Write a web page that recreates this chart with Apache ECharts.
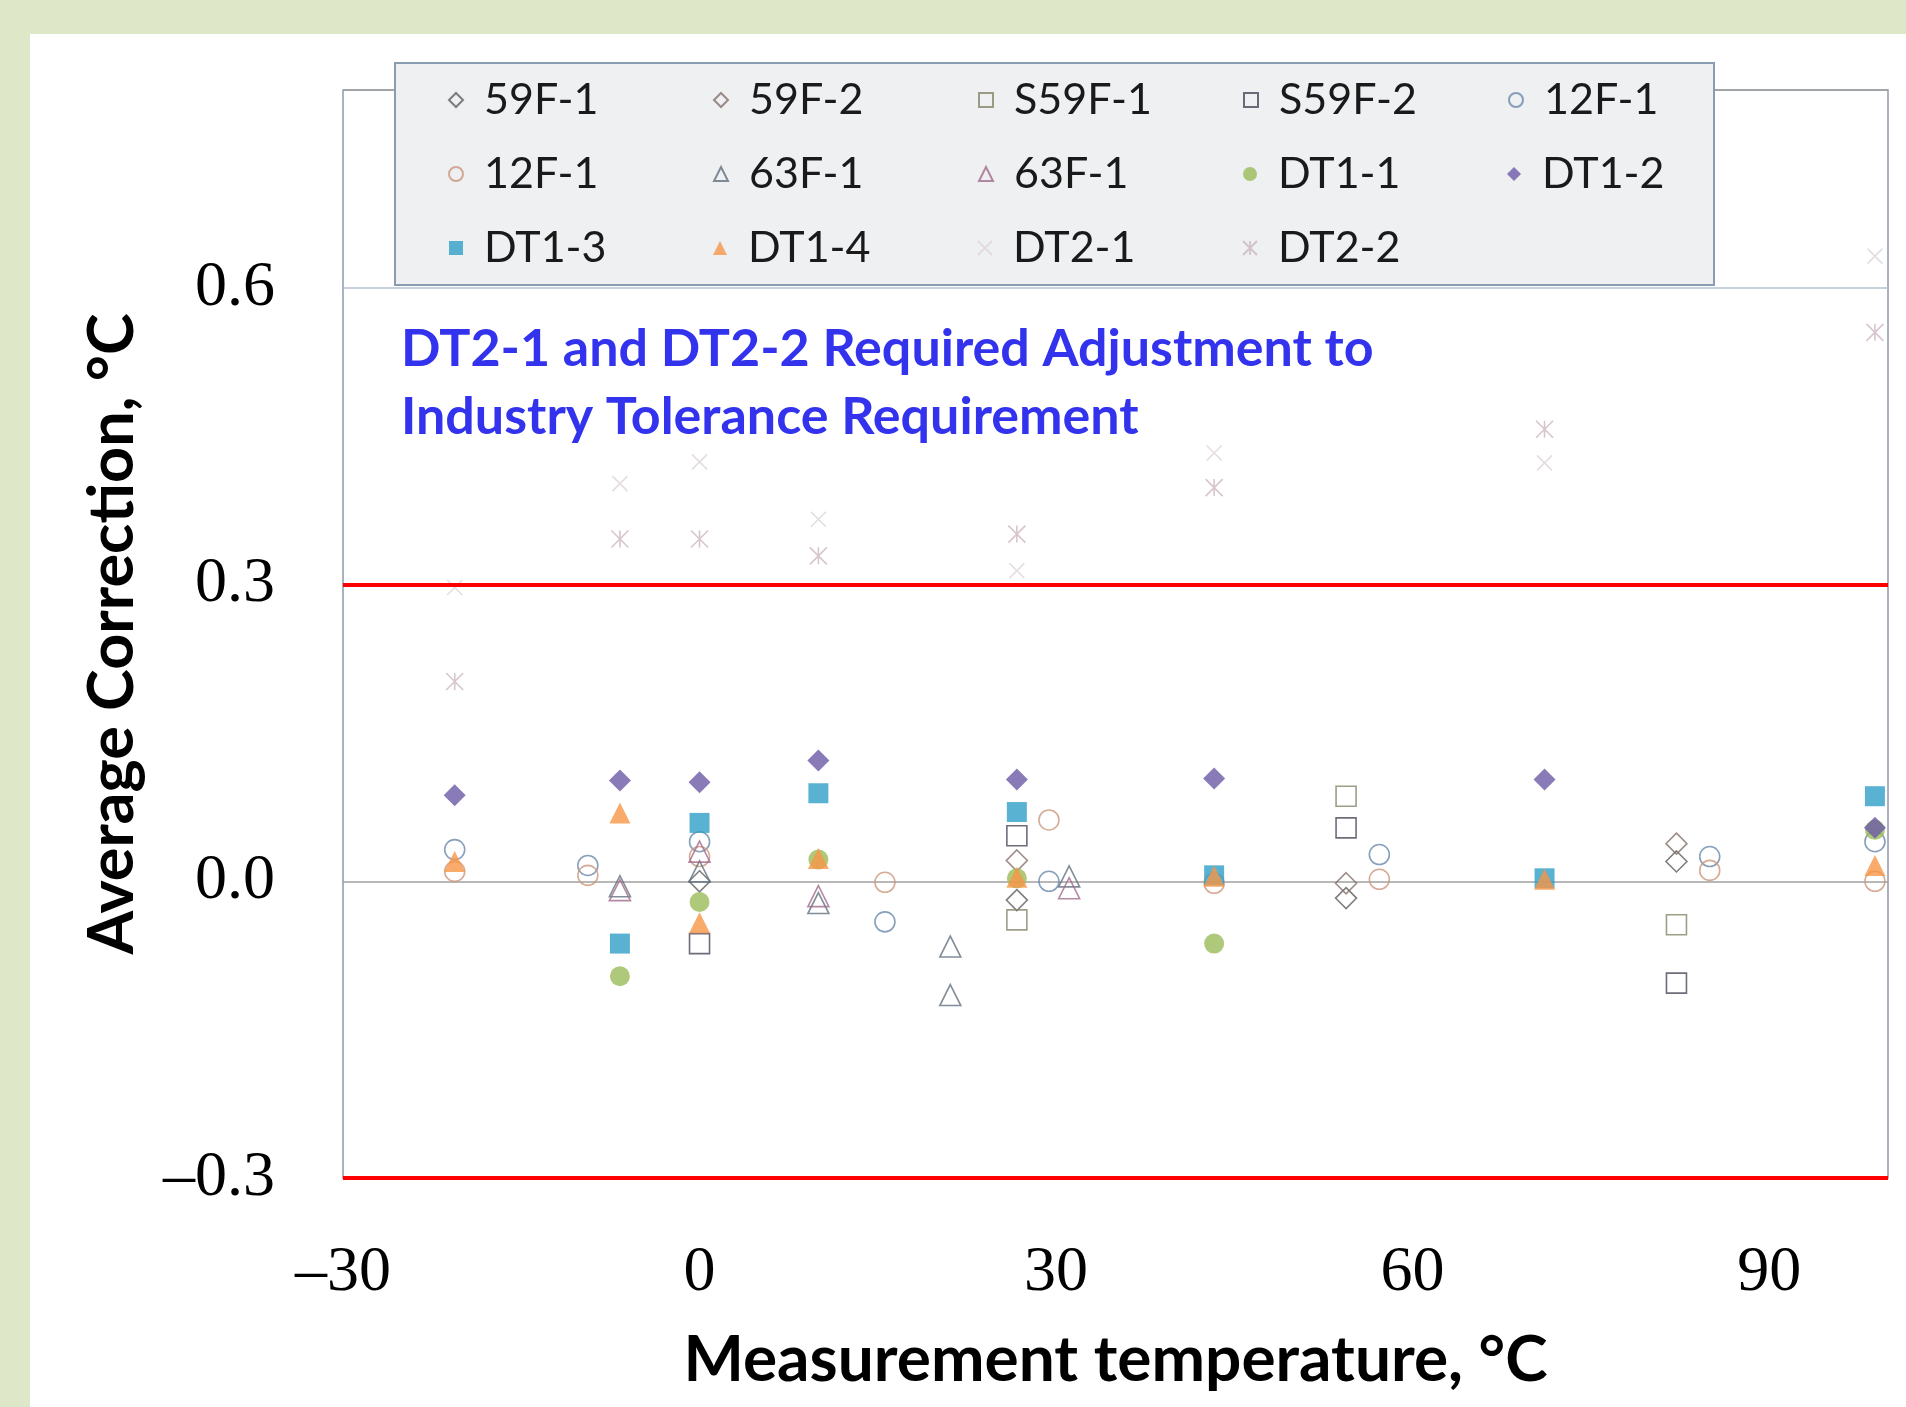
<!DOCTYPE html>
<html>
<head>
<meta charset="utf-8">
<title>Average Correction vs Measurement temperature</title>
<script src="https://cdn.jsdelivr.net/npm/echarts@6/dist/echarts.min.js"></script>
<style>
  html, body { margin: 0; padding: 0; background: #dee8c8; }
  #chart { position: absolute; left: 30px; top: 34px; width: 1876px; height: 1373px; background: #ffffff; }
</style>
</head>
<body>
<div id="chart"></div>
<script>
// series names (the "#2" suffix keeps duplicate legend labels apart, it is stripped on display)
var seriesNames = ['59F-1', '59F-2', 'S59F-1', 'S59F-2', '12F-1', '12F-1#2', '63F-1', '63F-1#2',
                   'DT1-1', 'DT1-2', 'DT1-3', 'DT1-4', 'DT2-1', 'DT2-2'];

// [measurement temperature degC, average correction degC]
var pts59F1  = [[0, 0.000], [26.7, -0.019], [54.4, -0.017], [82.2, 0.020]];
var pts59F2  = [[26.7, 0.021], [54.4, -0.002], [82.2, 0.038]];
var ptsS59F1 = [[26.7, -0.039], [54.4, 0.086], [82.2, -0.044]];
var ptsS59F2 = [[0, -0.063], [26.7, 0.046], [54.4, 0.054], [82.2, -0.103]];
var pts12F1a = [[-20.6, 0.032], [-9.4, 0.016], [0, 0.040], [15.6, -0.041], [29.4, 0.000], [57.2, 0.027], [85.0, 0.025], [98.9, 0.040]];
var pts12F1b = [[-20.6, 0.010], [-9.4, 0.006], [0, 0.025], [15.6, -0.001], [29.4, 0.062], [43.3, -0.002], [57.2, 0.002], [85.0, 0.011], [98.9, 0.000]];
var pts63F1a = [[-6.7, -0.005], [0, 0.010], [10, -0.022], [21.1, -0.066], [21.1, -0.115], [31.1, 0.005]];
var pts63F1b = [[-6.7, -0.009], [0, 0.030], [10, -0.015], [31.1, -0.007]];
var ptsDT11  = [[-6.7, -0.096], [0, -0.021], [10, 0.022], [26.7, 0.003], [43.3, -0.063], [98.9, 0.052]];
var ptsDT12  = [[-20.6, 0.087], [-6.7, 0.102], [0, 0.100], [10, 0.122], [26.7, 0.103], [43.3, 0.104], [71.1, 0.103], [98.9, 0.054]];
var ptsDT13  = [[-6.7, -0.063], [0, 0.059], [10, 0.089], [26.7, 0.070], [43.3, 0.006], [71.1, 0.003], [98.9, 0.086]];
var ptsDT14  = [[-20.6, 0.020], [-6.7, 0.069], [0, -0.042], [10, 0.023], [26.7, 0.004], [43.3, 0.005], [71.1, 0.002], [98.9, 0.016]];
var ptsDT21  = [[-20.6, 0.297], [-6.7, 0.402], [0, 0.424], [10, 0.366], [26.7, 0.314], [43.3, 0.433], [71.1, 0.423], [98.9, 0.632]];
var ptsDT22  = [[-20.6, 0.202], [-6.7, 0.346], [0, 0.346], [10, 0.329], [26.7, 0.351], [43.3, 0.398], [71.1, 0.457], [98.9, 0.555]];

var toleranceLimits = [0.3, -0.3];
var note = 'DT2-1 and DT2-2 Required Adjustment to\nIndustry Tolerance Requirement';

var crossPath = 'path://M0,0L10,10M10,0L0,10';
var starPath = 'path://M0,0L10,10M10,0L0,10M5,0L5,10';

function scatter(name, data, symbol, color, filled, size) {
    return {
        name: name,
        type: 'scatter',
        data: data,
        symbol: symbol,
        symbolSize: size,
        itemStyle: filled ? { color: color } :
            { color: 'rgba(255,255,255,0)', borderColor: color, borderWidth: 1.6 },
        emphasis: { disabled: true }
    };
}

var series = [
    scatter(seriesNames[0], pts59F1, 'diamond', '#5f5f5f', false, 21),
    scatter(seriesNames[1], pts59F2, 'diamond', '#85706a', false, 21),
    scatter(seriesNames[2], ptsS59F1, 'rect', '#86846a', false, 20),
    scatter(seriesNames[3], ptsS59F2, 'rect', '#4a4758', false, 20),
    scatter(seriesNames[4], pts12F1a, 'circle', '#6a88aa', false, 20),
    scatter(seriesNames[5], pts12F1b, 'circle', '#cc967c', false, 20),
    scatter(seriesNames[6], pts63F1a, 'triangle', '#62707e', false, 21),
    scatter(seriesNames[7], pts63F1b, 'triangle', '#a06c8c', false, 21),
    scatter(seriesNames[8], ptsDT11, 'circle', '#9bbb59', true, 20),
    scatter(seriesNames[9], ptsDT12, 'diamond', '#6c5aa6', true, 22),
    scatter(seriesNames[10], ptsDT13, 'rect', '#2f9fc6', true, 20),
    scatter(seriesNames[11], ptsDT14, 'triangle', '#f79646', true, 21),
    scatter(seriesNames[12], ptsDT21, crossPath, '#dcd5da', false, 15),
    scatter(seriesNames[13], ptsDT22, starPath, '#cdb7c2', false, 17)
];

series[13].markLine = {
    silent: true,
    symbol: ['none', 'none'],
    label: { show: false },
    lineStyle: { color: '#ff0000', width: 4, type: 'solid' },
    data: toleranceLimits.map(function (v) { return { yAxis: v }; })
};

function minusSign(s) { return s.replace('-', '\u2013'); }

var chart = echarts.init(document.getElementById('chart'));
var option = {
    animation: false,
    title: {
        text: note,
        left: 371,
        top: 281,
        padding: 0,
        textStyle: { fontFamily: 'Lato', fontWeight: 'bold', fontSize: 52, lineHeight: 68, color: '#3333ee' }
    },
    legend: {
        left: 365,
        top: 29,
        width: 1380,
        padding: [0, 20, 0, 53],
        itemGap: 0,
        itemWidth: 14,
        itemHeight: 14,
        backgroundColor: '#eef0f2',
        borderColor: '#8c9cb0',
        borderWidth: 2,
        formatter: function (n) { return n.split('#')[0]; },
        textStyle: {
            fontFamily: 'Lato', fontSize: 43, color: '#1a1a1a', lineHeight: 74,
            padding: [0, 0, 0, 16], width: 229, backgroundColor: 'rgba(0,0,0,0)'
        },
        data: seriesNames.map(function (n, i) {
            return { name: n, textStyle: { width: i % 5 === 4 ? 150 : 229 } };
        })
    },
    grid: {
        left: 313, right: 18, top: 56, bottom: 229,
        show: true, borderColor: '#8d9aab', borderWidth: 1.5,
        outerBoundsMode: 'none'
    },
    xAxis: {
        type: 'value',
        min: -30, max: 100, interval: 30,
        axisLine: { show: false },
        axisTick: { show: false },
        splitLine: { show: false },
        axisLabel: {
            showMaxLabel: false, margin: 63,
            fontFamily: 'Liberation Serif', fontSize: 64, color: '#000',
            formatter: function (v) { return minusSign(String(v)); }
        },
        name: 'Measurement temperature, \u00B0C',
        nameLocation: 'middle',
        nameGap: 150,
        nameTextStyle: { fontFamily: 'Lato', fontWeight: 'bold', fontSize: 64, color: '#000' }
    },
    yAxis: {
        type: 'value',
        min: -0.3, max: 0.8, interval: 0.3,
        axisLine: { show: false },
        axisTick: { show: false },
        splitLine: { lineStyle: { color: ['#a0a0a0', '#a0a0a0', '#a0a0a0', '#b4c2d2', '#a0a0a0'], width: 1.5 } },
        axisLabel: {
            showMaxLabel: false, margin: 68,
            fontFamily: 'Liberation Serif', fontSize: 64, color: '#000',
            formatter: function (v) {
                if (Math.abs(v) < 1e-9) v = 0;
                return minusSign(v.toFixed(1));
            }
        },
        name: 'Average Correction, \u00B0C',
        nameLocation: 'middle',
        nameGap: 199,
        nameTextStyle: { fontFamily: 'Lato', fontWeight: 'bold', fontSize: 63, color: '#000' }
    },
    series: series
};
chart.setOption(option);
window.addEventListener('resize', chart.resize);
</script>
</body>
</html>
